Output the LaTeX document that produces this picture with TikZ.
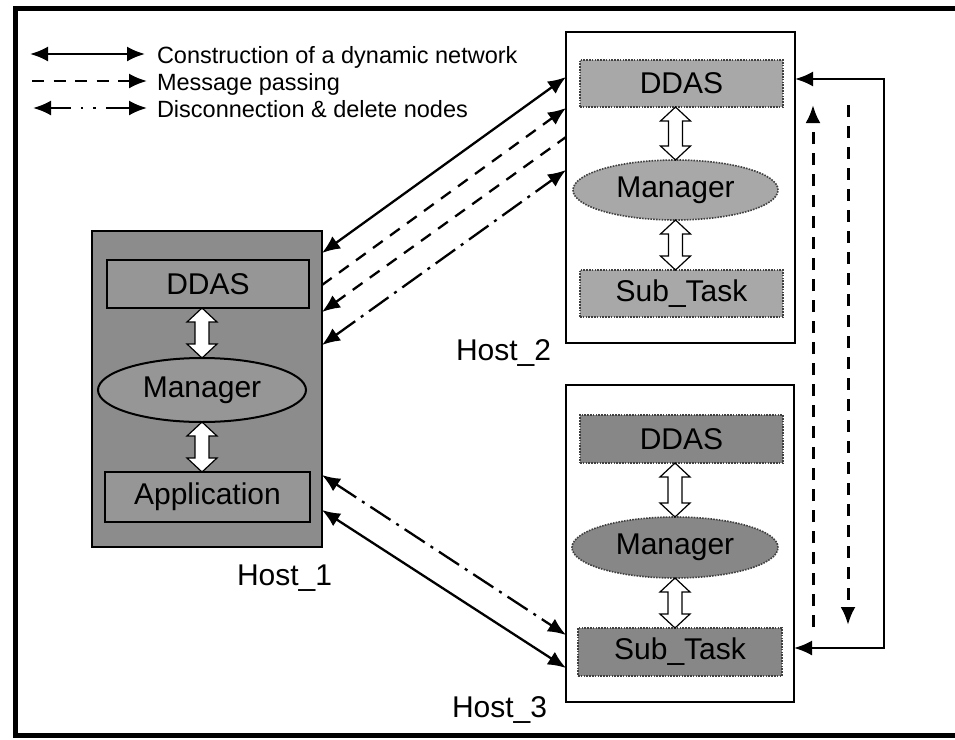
\documentclass[tikz,border=0pt]{standalone}
\usepackage{fontspec}
\setmainfont{Liberation Sans}
\usetikzlibrary{arrows.meta,shapes.geometric,calc}

% hollow double-headed block arrow between two anchors, centred on the x of #3
\newcommand\hollowpair[3]{%
  \path[draw=black, fill=white, line width=1.2pt, line join=miter]
    let \p1=(#1), \p2=(#2), \p3=(#3) in
    (\x3,\y1) -- (\x3+15pt,\y1-14pt) -- (\x3+7pt,\y1-14pt) -- (\x3+7pt,\y2+14pt)
    -- (\x3+15pt,\y2+14pt) -- (\x3,\y2) -- (\x3-15pt,\y2+14pt) -- (\x3-7pt,\y2+14pt)
    -- (\x3-7pt,\y1-14pt) -- (\x3-15pt,\y1-14pt) -- cycle;}

\definecolor{hostonefill}{gray}{0.55}
\definecolor{hostoneinner}{gray}{0.59}
\definecolor{hosttwofill}{gray}{0.66}
\definecolor{hostthreefill}{gray}{0.53}

\begin{document}
\begin{tikzpicture}[x=1pt,y=-1pt,
  every node/.style={inner sep=0pt, outer sep=0pt, font=\fontsize{30}{36}\selectfont},
  hostbox/.style={draw=black, line width=2.4pt, rectangle},
  solidpart/.style={draw=black, line width=2pt, rectangle, fill=hostoneinner},
  dotline/.style={draw=black!75, line width=1.6pt, dash pattern=on 1.6pt off 1.2pt},
  dotpart/.style={dotline, rectangle},
  mgr/.style={ellipse},
  lbl/.style={anchor=base west},
  legendtext/.style={anchor=base west, font=\fontsize{23.5}{27}\selectfont},
  conn/.style={line width=2.3pt, >={Latex[length=18pt,width=15pt]}},
  msg/.style={conn, dash pattern=on 12pt off 9pt},
  disc/.style={conn, dash pattern=on 24pt off 7pt on 3pt off 7pt},
  sidemsg/.style={msg, line width=3pt},
]
\useasboundingbox (0,0) rectangle (955,739);
\fill[white] (0,0) rectangle (955,739);

% outer frame (open on the right)
\draw[line width=5pt] (955,8) -- (15,8) -- (15,735) -- (955,735);

% legend
\coordinate (l1a) at (30,54);  \coordinate (l1b) at (145,54);
\coordinate (l2a) at (32,81);  \coordinate (l2b) at (147,81);
\coordinate (l3a) at (33,108); \coordinate (l3b) at (147,108);
\draw[conn,<->] (l1a) -- (l1b);
\draw[conn,->,dash pattern=on 12pt off 9.5pt] (l2a) -- (l2b);
\draw[conn,<->,dash pattern=on 21pt off 10pt on 2.5pt off 10pt on 2.5pt off 10pt on 30pt] (l3a) -- (l3b);
\node[legendtext] (t1) at (157,63) {Construction of a dynamic network};
\node[legendtext] (t2) at (157,90) {Message passing};
\node[legendtext] (t3) at (157,117) {Disconnection \& delete nodes};

% Host 1
\node[hostbox, fill=hostonefill, minimum width=230pt, minimum height=316pt] (h1) at (207,389) {};
\node[solidpart, minimum width=202pt, minimum height=48pt] (h1d) at (208,284) {DDAS};
\node[mgr, draw=black, line width=2pt, fill=hostoneinner, minimum width=208pt, minimum height=64pt] (h1m) at (202,390) {Manager};
\node[solidpart, minimum width=205pt, minimum height=50pt] (h1a) at (207.5,497) {Application};
\hollowpair{h1d.south}{h1m.north}{h1m.north}
\hollowpair{h1m.south}{h1a.north}{h1m.south}
\node[lbl] (n1) at (237,585) {Host\_1};

% Host 2
\node[hostbox, fill=white, minimum width=229pt, minimum height=311pt] (h2) at (680.5,187.5) {};
\node[dotpart, fill=hosttwofill, minimum width=203pt, minimum height=47pt] (h2d) at (681.5,83.5) {DDAS};
\node[dotline, mgr, fill=hosttwofill, minimum width=205pt, minimum height=60pt] (h2m) at (675.5,190) {Manager};
\node[dotpart, fill=hosttwofill, minimum width=203pt, minimum height=47pt] (h2s) at (681.5,293.5) {Sub\_Task};
\hollowpair{h2d.south}{h2m.north}{h2m.north}
\hollowpair{h2m.south}{h2s.north}{h2m.south}
\node[lbl] (n2) at (456,360) {Host\_2};

% Host 3
\node[hostbox, fill=white, minimum width=228pt, minimum height=317pt] (h3) at (680,543.5) {};
\node[dotpart, fill=hostthreefill, minimum width=203pt, minimum height=48pt] (h3d) at (681.5,439) {DDAS};
\node[dotline, mgr, fill=hostthreefill, minimum width=206pt, minimum height=61pt] (h3m) at (675,547.5) {Manager};
\node[dotpart, fill=hostthreefill, minimum width=204pt, minimum height=48pt] (h3s) at (680,652) {Sub\_Task};
\hollowpair{h3d.south}{h3m.north}{h3m.north}
\hollowpair{h3m.south}{h3s.north}{h3m.south}
\node[lbl] (n3) at (452,717) {Host\_3};

% attachment points on the host boxes
\coordinate (p1a) at ([yshift=-22pt]h1.north east);
\coordinate (p1b) at ([yshift=-54pt]h1.north east);
\coordinate (p1c) at ([yshift=-81pt]h1.north east);
\coordinate (p1d) at ([yshift=-114pt]h1.north east);
\coordinate (p1e) at ([yshift=-244pt]h1.north east);
\coordinate (p1f) at ([yshift=-279pt]h1.north east);
\coordinate (p2a) at ([yshift=-45pt]h2.north west);
\coordinate (p2b) at ([yshift=-76pt]h2.north west);
\coordinate (p2c) at ([yshift=-105pt]h2.north west);
\coordinate (p2d) at ([yshift=-138pt]h2.north west);
\coordinate (p2e) at ([yshift=-47pt]h2.north east);
\coordinate (p3a) at ([yshift=-250pt]h3.north west);
\coordinate (p3b) at ([yshift=-283pt]h3.north west);
\coordinate (p3e) at ([yshift=-263pt]h3.north east);

% Host 1 <-> Host 2
\draw[conn,<->] (p1a) -- (p2a);
\draw[msg,->] (p1b) -- (p2b);
\draw[msg,<-] (p1c) -- (p2c);
\draw[disc,<->] (p1d) -- (p2d);

% Host 1 <-> Host 3
\draw[disc,<->] (p1e) -- (p3a);
\draw[conn,<->] (p1f) -- (p3b);

% Host 2 <-> Host 3
\draw[conn,<->] (p2e) -- (884,79) -- (884,648) -- (p3e);
\coordinate (up1) at (813,627); \coordinate (up2) at (813,105);
\coordinate (dn1) at (848,105); \coordinate (dn2) at (848,625);
\draw[sidemsg,->] (up1) -- (up2);
\draw[sidemsg,->] (dn1) -- (dn2);
\end{tikzpicture}
\end{document}
